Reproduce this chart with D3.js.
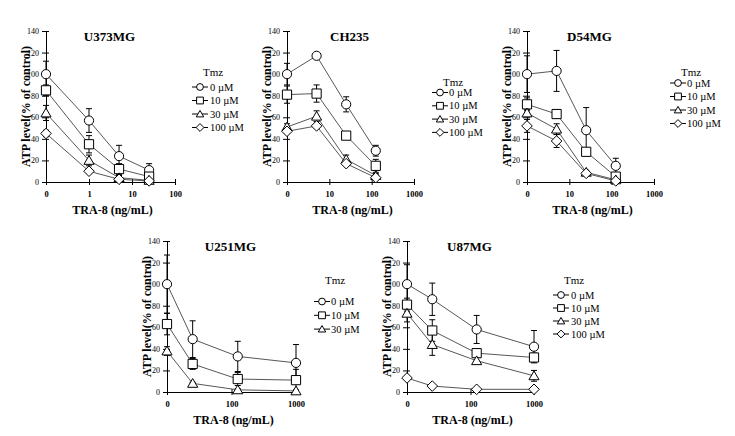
<!DOCTYPE html>
<html>
<head>
<meta charset="utf-8">
<script src="https://cdn.jsdelivr.net/npm/d3@7"></script>
<style>
  body { margin: 0; background: #fff; }
  svg { display: block; }
</style>
</head>
<body>
<svg id="chart" width="735" height="436"></svg>
<script>
// TRA-8 doses (ng/mL); a dose of 0 is drawn at the origin of the log axis
const u373Dose = [0, 1, 5, 25];
const ch235Dose = [0, 5, 25, 125];
const d54Dose = [0, 5, 25, 125];
const u251Dose = [0, 25, 125, 1000];
const u87Dose = [0, 25, 125, 1000];

// Tmz levels, one row of means / errors per level
const tmzLevels = ["0 µM", "10 µM", "30 µM", "100 µM"];

const u373Mean = [[100, 57, 24, 11], [85, 35, 12, 5], [64, 20, 4, 1.5], [45, 10, 2.5, 1]];
const u373Err  = [[12, 11, 10, 6], [5, 8, 5, 3], [7, 5, 2, 1], [3, 2, 1, 0.5]];

const ch235Mean = [[100, 117, 72, 29], [81, 82, 43, 15], [51, 61, 21, 6], [47, 52, 17, 4]];
const ch235Err  = [[10, 2, 7, 5], [8, 8, 1, 6], [3, 5, 4, 2], [2, 2, 2, 1]];

const d54Mean = [[100, 103, 48, 15], [72, 63, 28, 5], [64, 49, 9, 2], [52, 38, 8, 1]];
const d54Err  = [[17, 19, 21, 7], [6, 4, 3, 3], [3, 5, 2, 1], [6, 6, 2, 1]];

const u251Mean = [[100, 49, 33, 27], [63, 26, 12, 11], [38, 8, 2, 1]];
const u251Err  = [[27, 17, 14, 17], [10, 5, 6, 10], [4, 1, 1, 1]];

const u87Mean = [[100, 86, 58, 42], [81, 57, 36, 32], [73, 44, 29, 15], [13, 5.5, 2.5, 2.5]];
const u87Err  = [[18, 15, 13, 15], [6, 10, 4, 4], [8, 10, 3, 5], [1, 1, 0.5, 0.5]];

// axis ticks
const yTicks = [0, 20, 40, 60, 80, 100, 120, 140];
const u373Ticks = [0.1, 1, 10, 100];
const u373TickLabels = ["0", "1", "10", "100"];
const topTicks = [1, 10, 100, 1000];
const topTickLabels = ["0", "10", "100", "1000"];
const bottomTicks = [10, 100, 1000];
const bottomTickLabels = ["0", "100", "1000"];

const markerKinds = ["circle", "square", "triangle", "diamond"];

// where each panel sits on the page
const panels = [
  { name: "U373MG", dose: u373Dose, mean: u373Mean, err: u373Err, ticks: u373Ticks, labels: u373TickLabels,
    x0: 46, x1: 175, yTop: 31, yBot: 182, legX: 200, legTextX: 210, legTitleY: 76, legY: 87, legDy: 13.5 },
  { name: "CH235", dose: ch235Dose, mean: ch235Mean, err: ch235Err, ticks: topTicks, labels: topTickLabels,
    x0: 287, x1: 414, yTop: 31, yBot: 182, legX: 440, legTextX: 449, legTitleY: 86, legY: 92.5, legDy: 13.3 },
  { name: "D54MG", dose: d54Dose, mean: d54Mean, err: d54Err, ticks: topTicks, labels: topTickLabels,
    x0: 527, x1: 654, yTop: 31, yBot: 182, legX: 678, legTextX: 687, legTitleY: 76, legY: 83, legDy: 13.5 },
  { name: "U251MG", dose: u251Dose, mean: u251Mean, err: u251Err, ticks: bottomTicks, labels: bottomTickLabels,
    x0: 167, x1: 296, yTop: 241, yBot: 392, legX: 322, legTextX: 331, legTitleY: 284, legY: 301.5, legDy: 13.8 },
  { name: "U87MG", dose: u87Dose, mean: u87Mean, err: u87Err, ticks: bottomTicks, labels: bottomTickLabels,
    x0: 407, x1: 534, yTop: 241, yBot: 392, legX: 561, legTextX: 571, legTitleY: 284, legY: 295, legDy: 13 }
];

const serif = "'Liberation Serif', 'Times New Roman', serif";
const svg = d3.select("#chart");

function markerPath(kind, s) {
  if (kind === "circle") return d3.symbol(d3.symbolCircle, Math.PI * s * s)();
  if (kind === "square") return `M${-s},${-s}h${2 * s}v${2 * s}h${-2 * s}Z`;
  if (kind === "triangle") return `M0,${-s * 1.05}L${s * 1.1},${s * 0.85}L${-s * 1.1},${s * 0.85}Z`;
  const d = s * 1.15;
  return `M0,${-d}L${d},0L0,${d}L${-d},0Z`;
}

function drawPanel(p) {
  const g = svg.append("g");
  const x = d3.scaleLog().domain([p.ticks[0], p.ticks[p.ticks.length - 1]]).range([p.x0, p.x1]);
  const y = d3.scaleLinear().domain([0, 140]).range([p.yBot, p.yTop]);
  const px = d => d === 0 ? x(p.ticks[0]) : x(d);

  // y axis with crossing ticks
  const ya = g.append("g")
    .attr("transform", `translate(${p.x0},0)`)
    .call(d3.axisLeft(y).tickValues(yTicks).tickSize(4).tickSizeOuter(0).tickPadding(3));
  ya.selectAll(".tick").append("line").attr("x2", 3).attr("stroke", "#000");
  ya.selectAll("text").attr("font-family", serif).attr("font-size", 8).attr("fill", "#000");
  ya.selectAll("line, path").attr("stroke", "#000");

  // x axis
  const xa = g.append("g")
    .attr("transform", `translate(0,${p.yBot})`)
    .call(d3.axisBottom(x).tickValues(p.ticks).tickFormat((d, i) => p.labels[i])
      .tickSize(3).tickSizeOuter(0).tickPadding(6));
  xa.selectAll(".tick").append("line").attr("y2", -3).attr("stroke", "#000");
  xa.selectAll("text").attr("font-family", serif).attr("font-size", 8.5)
    .attr("font-weight", "bold").attr("fill", "#000");
  xa.selectAll("line, path").attr("stroke", "#000");

  // titles
  g.append("text").attr("x", (p.x0 + p.x1) / 2 - 1).attr("y", p.yTop + 10)
    .attr("text-anchor", "middle").attr("font-family", serif).attr("font-weight", "bold")
    .attr("font-size", 13).text(p.name);
  g.append("text")
    .attr("transform", `translate(${p.x0 - 16},${(p.yTop + p.yBot) / 2}) rotate(-90)`)
    .attr("text-anchor", "middle").attr("font-family", serif).attr("font-weight", "bold")
    .attr("font-size", 12).text("ATP level(% of control)");
  g.append("text").attr("x", (p.x0 + p.x1) / 2 + 2).attr("y", p.yBot + 32)
    .attr("text-anchor", "middle").attr("font-family", serif).attr("font-weight", "bold")
    .attr("font-size", 12).text("TRA-8 (ng/mL)");

  const line = d3.line().x((d, i) => px(p.dose[i])).y(d => y(d));

  p.mean.forEach(m => {
    g.append("path").attr("d", line(m)).attr("fill", "none")
      .attr("stroke", "#444").attr("stroke-width", 0.9);
  });

  p.mean.forEach((m, s) => {
    m.forEach((v, i) => {
      const e = p.err[s][i];
      const cx = px(p.dose[i]);
      const lo = y(Math.max(0, v - e)), hi = y(v + e);
      g.append("line").attr("x1", cx).attr("x2", cx).attr("y1", lo).attr("y2", hi)
        .attr("stroke", "#000").attr("stroke-width", 1);
      [lo, hi].forEach(yy => g.append("line").attr("x1", cx - 3).attr("x2", cx + 3)
        .attr("y1", yy).attr("y2", yy).attr("stroke", "#000").attr("stroke-width", 1));
    });
  });

  p.mean.forEach((m, s) => {
    m.forEach((v, i) => {
      g.append("path").attr("d", markerPath(markerKinds[s], 4.6))
        .attr("transform", `translate(${px(p.dose[i])},${y(v)})`)
        .attr("fill", "#fff").attr("stroke", "#000").attr("stroke-width", 1);
    });
  });

  // legend
  g.append("text").attr("x", p.legX + 3).attr("y", p.legTitleY)
    .attr("font-family", serif).attr("font-size", 11).text("Tmz");
  p.mean.forEach((m, s) => {
    const ly = p.legY + s * p.legDy;
    g.append("line").attr("x1", p.legX - 8).attr("x2", p.legX + 8).attr("y1", ly).attr("y2", ly)
      .attr("stroke", "#000").attr("stroke-width", 1);
    g.append("path").attr("d", markerPath(markerKinds[s], 3.4))
      .attr("transform", `translate(${p.legX},${ly})`)
      .attr("fill", "#fff").attr("stroke", "#000").attr("stroke-width", 1);
    g.append("text").attr("x", p.legTextX).attr("y", ly + 3.5)
      .attr("font-family", serif).attr("font-size", 10.5).text(tmzLevels[s]);
  });
}

panels.forEach(drawPanel);
</script>
</body>
</html>
